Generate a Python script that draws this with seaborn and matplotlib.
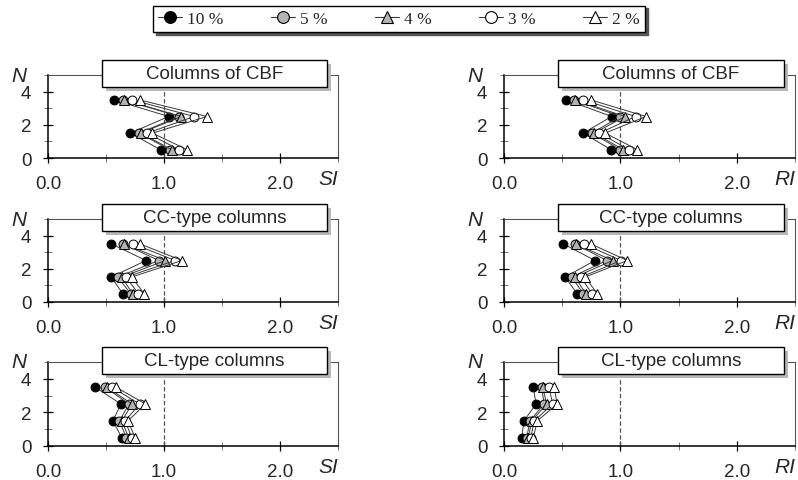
import matplotlib
matplotlib.use("Agg")
import matplotlib.pyplot as plt
import seaborn as sns
import pandas as pd
from matplotlib.patches import Rectangle
from matplotlib.lines import Line2D

# ---------------- data ----------------
storeys = [0.5, 1.5, 2.5, 3.5]
levels = ["10 %", "5 %", "4 %", "3 %", "2 %"]
panel_titles = ["Columns of CBF", "CC-type columns", "CL-type columns"]
index_labels = ["SI", "RI"]
x_ticks = [0.0, 1.0, 2.0]
x_tick_labels = ["0.0", "1.0", "2.0"]
y_ticks = [0, 2, 4]

# one row per level (10 %, 5 %, 4 %, 3 %, 2 %), values at storeys 0.5..3.5
si_cbf = [[0.97, 0.71, 1.04, 0.57],
          [1.05, 0.785, 1.13, 0.65],
          [1.07, 0.80, 1.15, 0.655],
          [1.13, 0.855, 1.26, 0.725],
          [1.20, 0.90, 1.37, 0.79]]
ri_cbf = [[0.92, 0.68, 0.925, 0.535],
          [1.00, 0.755, 1.00, 0.60],
          [1.025, 0.775, 1.04, 0.61],
          [1.075, 0.82, 1.13, 0.68],
          [1.145, 0.87, 1.22, 0.745]]
si_cc = [[0.645, 0.545, 0.845, 0.547],
         [0.713, 0.60, 0.955, 0.649],
         [0.73, 0.635, 1.012, 0.655],
         [0.78, 0.672, 1.095, 0.736],
         [0.83, 0.72, 1.155, 0.793]]
ri_cc = [[0.63, 0.524, 0.782, 0.51],
         [0.682, 0.581, 0.882, 0.61],
         [0.703, 0.61, 0.933, 0.615],
         [0.755, 0.661, 1.005, 0.687],
         [0.802, 0.696, 1.059, 0.745]]
si_cl = [[0.635, 0.56, 0.628, 0.407],
         [0.675, 0.615, 0.70, 0.491],
         [0.695, 0.637, 0.725, 0.506],
         [0.722, 0.665, 0.79, 0.55],
         [0.75, 0.69, 0.84, 0.588]]
ri_cl = [[0.152, 0.172, 0.275, 0.252],
         [0.195, 0.223, 0.344, 0.324],
         [0.209, 0.238, 0.367, 0.332],
         [0.23, 0.26, 0.418, 0.387],
         [0.252, 0.286, 0.458, 0.43]]

# ---------------- style ----------------
sns.set_style("white")
plt.rcParams["font.family"] = ["Liberation Sans", "DejaVu Sans"]

markers = ["o", "o", "^", "o", "^"]
faces = ["black", "#b3b3b3", "#b3b3b3", "white", "white"]
line_col = "#3a3a3a"

fig = plt.figure(figsize=(7.98, 4.81), dpi=100)
W, H = 798.0, 481.0
col_x = [(48, 290), (504, 291)]
row_y = [(76, 159), (220, 303), (363, 447)]

panels = [[si_cbf, ri_cbf], [si_cc, ri_cc], [si_cl, ri_cl]]

for r, (top, bot) in enumerate(row_y):
    for c, (left, width) in enumerate(col_x):
        ax = fig.add_axes([left / W, 1 - bot / H, width / W, (bot - top) / H])
        data = panels[r][c]
        for i, lev in enumerate(levels):
            df = pd.DataFrame({"val": data[i], "N": storeys})
            sns.lineplot(data=df, x="val", y="N", orient="y", estimator=None,
                         ax=ax, color=line_col, lw=0.7, marker=markers[i],
                         markerfacecolor=faces[i], markeredgecolor="black",
                         markeredgewidth=0.7, ms=6.4 if markers[i] == "o" else 6.8,
                         zorder=3 + i)
        ax.axvline(1.0, color="#555555", lw=0.9, ls=(0, (3.5, 2)), zorder=1)
        ax.set_xlim(0, 2.5)
        ax.set_ylim(0, 5)
        ax.set_xticks(x_ticks)
        ax.set_xticklabels(x_tick_labels)
        ax.set_xticks([0.5, 1.5, 2.5], minor=True)
        ax.set_yticks(y_ticks)
        ax.set_yticks([1, 3, 5], minor=True)
        ax.set_xlabel("")
        ax.set_ylabel("")
        ax.tick_params(axis="both", which="major", direction="inout", length=7,
                       width=0.9, color="black", labelsize=13.5, pad=8.5,
                       bottom=True, left=True)
        ax.tick_params(axis="both", which="minor", direction="inout", length=6,
                       width=0.7, color="#777777", bottom=True, left=True)
        for s in ["left", "bottom"]:
            ax.spines[s].set_color("black")
            ax.spines[s].set_linewidth(1.1)
        for s in ["top", "right"]:
            ax.spines[s].set_color("#555555")
            ax.spines[s].set_linewidth(0.8)
        # titles with shadow box
        bx0, bx1 = (54.0 / 290), (279.0 / 290)
        by0, by1 = (71.0 / 83), (98.0 / 83)
        dx, dy = 4.0 / width, -4.0 / 83
        ax.add_patch(Rectangle((bx0 + dx, by0 + dy), bx1 - bx0, by1 - by0,
                               transform=ax.transAxes, facecolor="#b8b8b8",
                               edgecolor="none", clip_on=False, zorder=10))
        ax.add_patch(Rectangle((bx0, by0), bx1 - bx0, by1 - by0,
                               transform=ax.transAxes, facecolor="white",
                               edgecolor="black", lw=1.0, clip_on=False, zorder=11))
        ax.text((bx0 + bx1) / 2, (by0 + by1) / 2, panel_titles[r],
                transform=ax.transAxes, ha="center", va="center",
                fontsize=13.5, zorder=12)
        ax.text(0.965, -0.25, index_labels[c], transform=ax.transAxes,
                ha="center", va="center", fontsize=15, style="italic")
        ax.text(-0.1, 1.0, "N", transform=ax.transAxes, ha="center",
                va="center", fontsize=15, style="italic")

handles = [Line2D([0], [0], color=line_col, lw=0.8, marker=markers[i],
                  markerfacecolor=faces[i], markeredgecolor="black",
                  markeredgewidth=0.8, ms=8.5) for i in range(len(levels))]
leg = fig.legend(handles, levels, loc="upper center",
                 bbox_to_anchor=(0.5, 1 - 6.5 / H), ncol=5, frameon=True,
                 fancybox=False, shadow={"color": "#555555", "alpha": 1.0},
                 prop={"family": "Liberation Serif", "size": 12.5},
                 handlelength=1.35, handletextpad=0.3, columnspacing=2.75,
                 borderpad=0.3, borderaxespad=0.0)
leg.get_frame().set_edgecolor("black")
leg.get_frame().set_linewidth(1.0)

fig.savefig("out.png", dpi=100)
